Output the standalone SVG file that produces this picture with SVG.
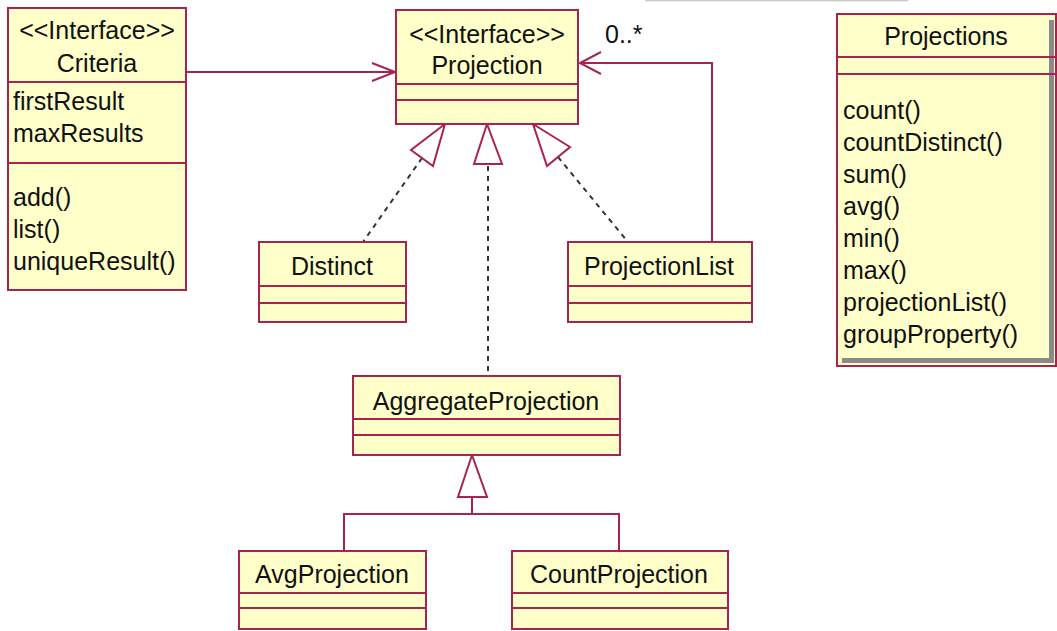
<svg xmlns="http://www.w3.org/2000/svg" width="1057" height="631" viewBox="0 0 1057 631">
<style>
.box{fill:#FFFFCA;stroke:#A8234F;stroke-width:2}
.div{stroke:#A8234F;stroke-width:2;fill:none}
.t{font-family:"Liberation Sans",Arial,sans-serif;font-size:25px;fill:#111}
.c{text-anchor:middle}
.line{stroke:#A8234F;stroke-width:2;fill:none}
.dash{stroke:#333;stroke-width:2;stroke-dasharray:5,5;fill:none}
.tri{fill:#fff;stroke:#A8234F;stroke-width:2}
</style>
<rect width="1057" height="631" fill="#fff"/>
<line x1="645" y1="0.5" x2="908" y2="0.5" stroke="#c8c8c8" stroke-width="1.5"/>
<g id="connectors">
  <path class="line" d="M187,72 H395 M372,63 L395,72 L372,81"/>
  <path class="line" d="M712,242 V63 H580 M601,52 L580,63 L601,74"/>
  <text class="t" x="605" y="43">0..*</text>
  <path class="dash" d="M422,158 L363,242"/>
  <polygon class="tri" points="445,124 411,150 433,166"/>
  <path class="dash" d="M488,166 V376"/>
  <polygon class="tri" points="487,124 474,164 502,164"/>
  <path class="dash" d="M558,157 L628,242"/>
  <polygon class="tri" points="533,124 570,147 547,166"/>
  <path class="line" d="M472,497 V514 M344,551 V514 H619 V551"/>
  <polygon class="tri" points="472,455 458,497 487,497"/>
</g>
<g id="Criteria">
  <rect class="box" x="8" y="8" width="178" height="282"/>
  <path class="div" d="M8,82 H186 M8,163 H186"/>
  <text class="t c" x="97" y="39">&lt;&lt;Interface&gt;&gt;</text>
  <text class="t c" x="97" y="72">Criteria</text>
  <text class="t" x="13" y="110">firstResult</text>
  <text class="t" x="13" y="142">maxResults</text>
  <text class="t" x="13" y="206">add()</text>
  <text class="t" x="13" y="238">list()</text>
  <text class="t" x="13" y="270">uniqueResult()</text>
</g>
<g id="Projection">
  <rect class="box" x="396" y="10" width="182" height="114"/>
  <path class="div" d="M396,84 H578 M396,100 H578"/>
  <text class="t c" x="487" y="43">&lt;&lt;Interface&gt;&gt;</text>
  <text class="t c" x="487" y="74">Projection</text>
</g>
<g id="Projections">
  <rect class="box" x="837" y="14" width="219" height="352"/>
  <rect x="1049" y="20" width="5" height="343" fill="#8a8a8a"/>
  <rect x="842" y="358" width="212" height="5" fill="#8a8a8a"/>
  <path class="div" d="M837,57 H1056 M837,74 H1056"/>
  <text class="t c" x="946" y="45">Projections</text>
  <text class="t" x="843" y="119">count()</text>
  <text class="t" x="843" y="151">countDistinct()</text>
  <text class="t" x="843" y="183">sum()</text>
  <text class="t" x="843" y="215">avg()</text>
  <text class="t" x="843" y="247">min()</text>
  <text class="t" x="843" y="279">max()</text>
  <text class="t" x="843" y="311">projectionList()</text>
  <text class="t" x="843" y="343">groupProperty()</text>
</g>
<g id="Distinct">
  <rect class="box" x="259" y="242" width="147" height="80"/>
  <path class="div" d="M259,286 H406 M259,303 H406"/>
  <text class="t c" x="332" y="275">Distinct</text>
</g>
<g id="ProjectionList">
  <rect class="box" x="568" y="242" width="184" height="80"/>
  <path class="div" d="M568,286 H752 M568,303 H752"/>
  <text class="t c" x="659" y="275">ProjectionList</text>
</g>
<g id="AggregateProjection">
  <rect class="box" x="353" y="376" width="267" height="79"/>
  <path class="div" d="M353,419 H620 M353,435 H620"/>
  <text class="t c" x="486" y="410">AggregateProjection</text>
</g>
<g id="AvgProjection">
  <rect class="box" x="239" y="551" width="187" height="78"/>
  <path class="div" d="M239,593 H426 M239,608 H426"/>
  <text class="t c" x="332" y="583">AvgProjection</text>
</g>
<g id="CountProjection">
  <rect class="box" x="512" y="551" width="216" height="78"/>
  <path class="div" d="M512,593 H728 M512,608 H728"/>
  <text class="t c" x="619" y="583">CountProjection</text>
</g>
</svg>
